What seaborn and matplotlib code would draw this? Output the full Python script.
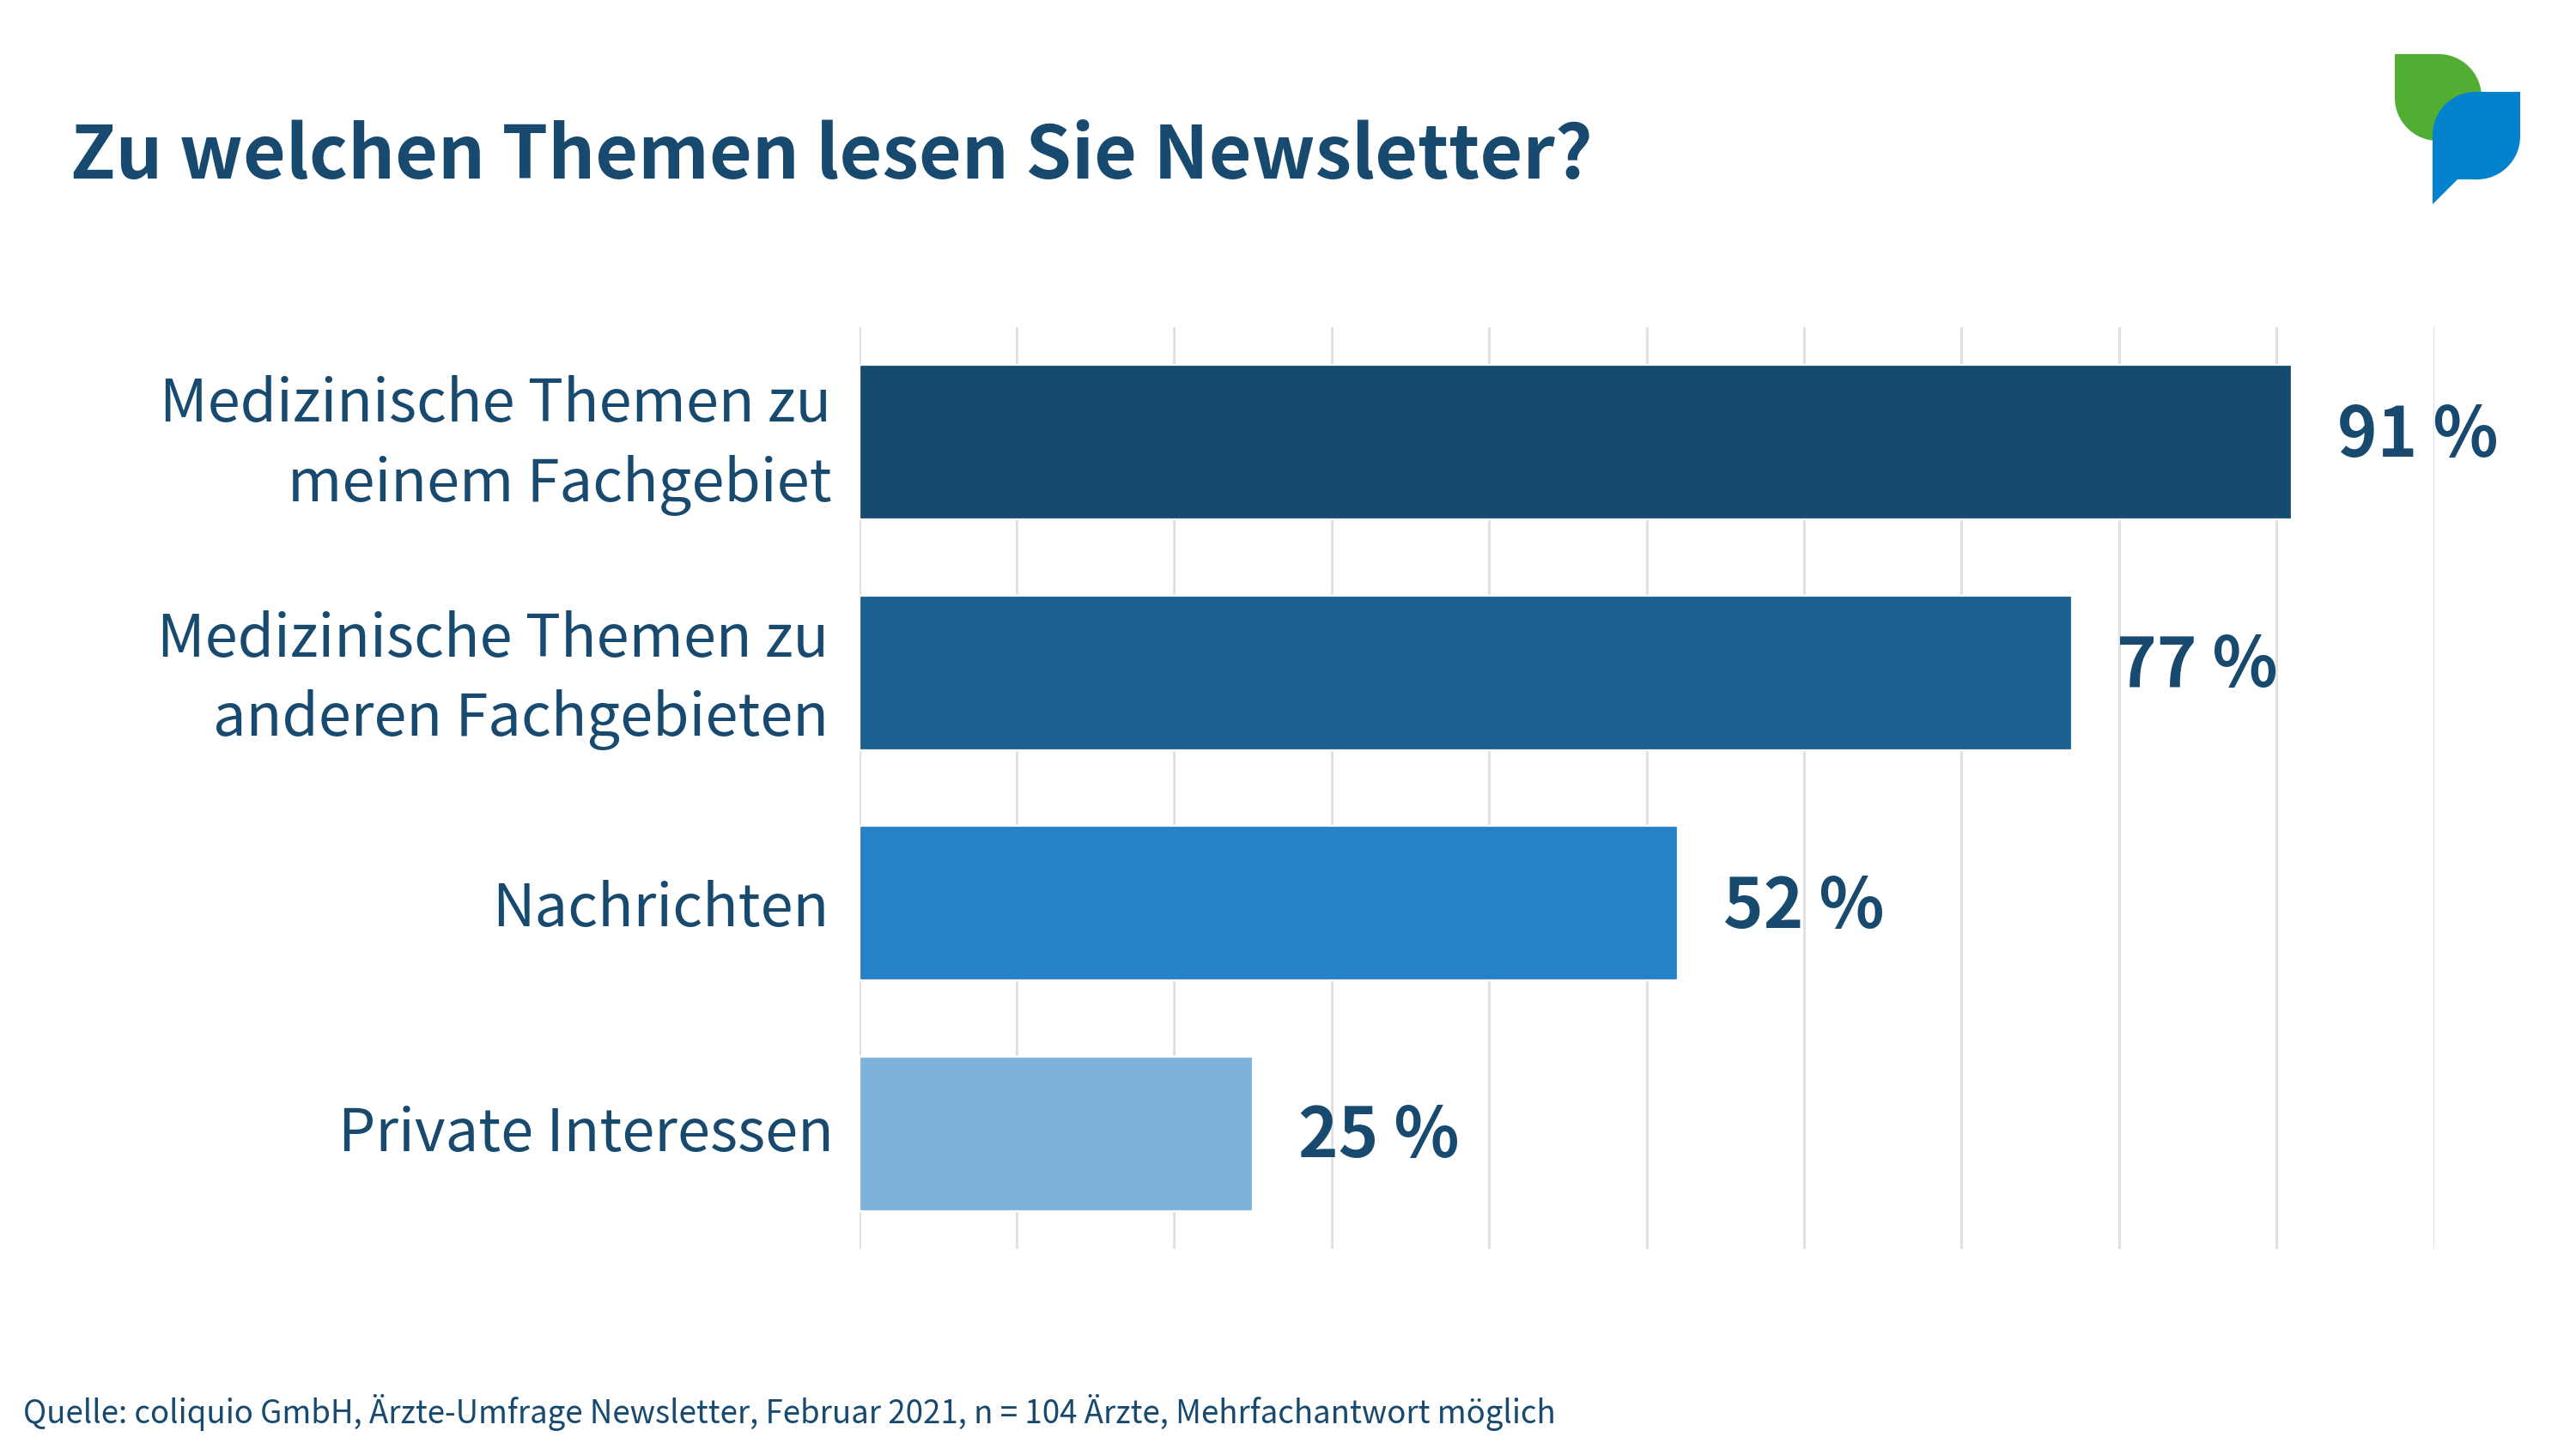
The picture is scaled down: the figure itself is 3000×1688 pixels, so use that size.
# Zu welchen Themen lesen Sie Newsletter? - horizontal bar chart

import pandas as pd
import matplotlib.pyplot as plt
import seaborn as sns
from matplotlib.patches import PathPatch
from matplotlib.path import Path
from matplotlib.transforms import ScaledTranslation

# ============================================
# Data
# ============================================

categories = [
    "Medizinische Themen zu\nmeinem Fachgebiet",
    "Medizinische Themen zu\nanderen Fachgebieten",
    "Nachrichten",
    "Private Interessen",
]
values = [91, 77, 52, 25]
bar_colors = ["#164B6F", "#1C6091", "#2681C7", "#7CB2DC"]
grid_ticks = [0, 10, 20, 30, 40, 50, 60, 70, 80, 90, 100]

title = "Zu welchen Themen lesen Sie Newsletter?"
source = ("Quelle: coliquio GmbH, Ärzte-Umfrage Newsletter, Februar 2021, "
          "n = 104 Ärzte, Mehrfachantwort möglich")

TEXT_COLOR = "#174A6E"
GRID_COLOR = "#DDE2E7"
W, H = 3000, 1688

# small nudges of the labels, the source chart is not quite regular (points)
label_dx = [1.4, 0.3, 0.5, 2.5]
label_dy = [5.8, 4, 0, 2.4]
value_dy = [2.5, 2.5, -2, -1.5]

# ============================================
# Setup
# ============================================

sns.set_theme(style="white")
plt.rcParams["font.family"] = ["Noto Sans CJK JP", "DejaVu Sans"]

df = pd.DataFrame({"category": categories, "value": values})

fig = plt.figure(figsize=(15, 8.44), dpi=200)
ax = fig.add_axes([1000.5 / W, (H - 1455) / H, 1834 / W, 1074 / H])

# ============================================
# Bars
# ============================================

sns.barplot(data=df, x="value", y="category", hue="category",
            palette=bar_colors, saturation=1, legend=False, width=0.67,
            ax=ax, edgecolor="white", linewidth=0.8, zorder=3)

ax.set_xlim(0, 100)
ax.set_xticks(grid_ticks)
ax.set_xticklabels([])
ax.set_xlabel("")
ax.set_ylabel("")
ax.grid(axis="x", color=GRID_COLOR, linewidth=1.1, zorder=0)
ax.grid(axis="y", visible=False)
ax.set_axisbelow(True)
ax.tick_params(axis="both", length=0)
ax.tick_params(axis="y", pad=13, labelsize=24.7, labelcolor=TEXT_COLOR)
sns.despine(ax=ax, left=True, bottom=True)

for label, dx, dy in zip(ax.get_yticklabels(), label_dx, label_dy):
    label.set_linespacing(1.42)
    label.set_transform(label.get_transform()
                        + ScaledTranslation(dx / 72, dy / 72, fig.dpi_scale_trans))

for container, dy in zip(ax.containers, value_dy):
    texts = ax.bar_label(container, fmt="%g %%", padding=19, fontsize=28.5,
                         fontweight="bold", color=TEXT_COLOR, clip_on=False)
    for t in texts:
        t.xyann = (t.xyann[0], t.xyann[1] + dy)

# ============================================
# Title and source
# ============================================

fig.text(82 / W, 1 - 208 / H, title, fontsize=30.9, fontweight="bold",
         color=TEXT_COLOR, ha="left", va="baseline")
fig.text(27 / W, 1 - 1658 / H, source, fontsize=13.2,
         color=TEXT_COLOR, ha="left", va="baseline")

# ============================================
# Logo
# ============================================

logo = fig.add_axes([0, 0, 1, 1], zorder=5)
logo.set_xlim(0, W)
logo.set_ylim(H, 0)
logo.axis("off")

# green leaf: square top-left, round top-right and bottom-left
gx0, gy0, gx1, gy1, gr = 2789, 63, 2890, 164, 50
k = 0.55 * gr
green = Path(
    [(gx0, gy0), (gx1 - gr, gy0), (gx1 - gr + k, gy0), (gx1, gy0 + gr - k), (gx1, gy0 + gr),
     (gx1, gy1), (gx0 + gr, gy1), (gx0 + gr - k, gy1), (gx0, gy1 - gr + k), (gx0, gy1 - gr),
     (gx0, gy0)],
    [Path.MOVETO, Path.LINETO, Path.CURVE4, Path.CURVE4, Path.CURVE4,
     Path.LINETO, Path.LINETO, Path.CURVE4, Path.CURVE4, Path.CURVE4,
     Path.CLOSEPOLY])
logo.add_patch(PathPatch(green, facecolor="#52AE32", edgecolor="none"))

# blue speech bubble: round top-left and bottom-right, tail at the bottom
bx0, by0, bx1, by1, br = 2833, 107, 2935, 209, 50
k = 0.55 * br
blue = Path(
    [(bx0, by0 + br), (bx0, by0 + br - k), (bx0 + br - k, by0), (bx0 + br, by0),
     (bx1, by0), (bx1, by1 - br), (bx1, by1 - br + k), (bx1 - br + k, by1), (bx1 - br, by1),
     (bx0 + 29, by1), (bx0, 238), (bx0, by0 + br)],
    [Path.MOVETO, Path.CURVE4, Path.CURVE4, Path.CURVE4,
     Path.LINETO, Path.LINETO, Path.CURVE4, Path.CURVE4, Path.CURVE4,
     Path.LINETO, Path.LINETO, Path.CLOSEPOLY])
logo.add_patch(PathPatch(blue, facecolor="#0582CE", edgecolor="none"))

plt.savefig("out.png", dpi=200)
